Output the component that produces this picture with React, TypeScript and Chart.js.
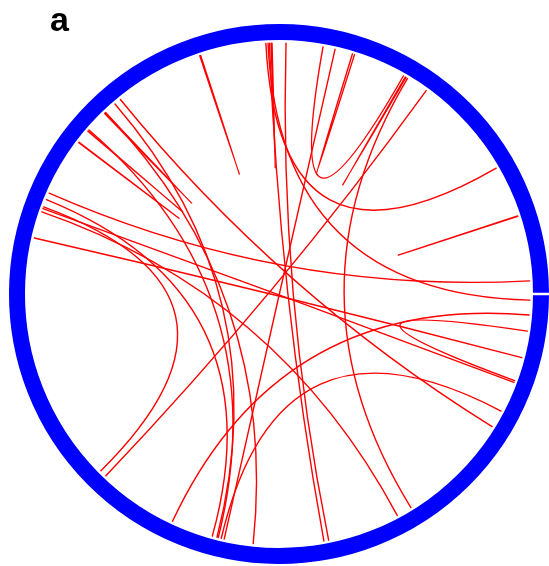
import React, { useEffect, useRef } from "react";
import { Chart, registerables } from "chart.js";

Chart.register(...registerables);

// Link end positions along the ring, degrees clockwise from the 3 o'clock gap
const linkStart = [
  251.6, 267.0, 267.5, 267.8, 268.2, 271.6, 280.1, 282.9, 287.0, 300.2,
  300.8, 305.9, 341.9, 357.0, 4.8, 8.5, 14.7, 20.6, 27.8, 31.9,
  61.9, 95.9, 105.4, 104.3, 104.0, 135.2, 217.1, 220.4, 226.0,
];
const linkEnd = [
  251.8, 329.9, 1.4, 79.7, 268.4, 78.6, 299.7, 102.6, 287.5, 300.4,
  58.3, 133.6, 342.0, 203.7, 115.1, 20.2, 192.9, 199.9, 103.3, 230.8,
  199.1, 226.3, 202.1, 229.2, 220.8, 200.3, 217.2, 220.5, 226.2,
];

const LINK_RADIUS = 251;
const RING_INNER = 254;
const RING_OUTER = 270;
const GAP_DEG = 0.55;
const PANEL_LABEL = "a";

const circosPlugin = {
  id: "circos",
  beforeDatasetsDraw(chart: any) {
    const xs = chart.scales.x;
    const ys = chart.scales.y;
    const ctx = chart.ctx as CanvasRenderingContext2D;
    const cx = xs.getPixelForValue(0);
    const cy = ys.getPixelForValue(0);
    const pt = (deg: number, r: number) => {
      const a = (deg * Math.PI) / 180;
      return {
        x: xs.getPixelForValue(r * Math.cos(a)),
        y: ys.getPixelForValue(-r * Math.sin(a)),
      };
    };
    const rpx = (r: number) => xs.getPixelForValue(r) - cx;

    ctx.save();
    // ring
    const g = ((GAP_DEG / 2) * Math.PI) / 180;
    ctx.strokeStyle = "#0000ff";
    ctx.lineCap = "butt";
    ctx.lineWidth = rpx(RING_OUTER - RING_INNER);
    ctx.beginPath();
    ctx.arc(cx, cy, rpx((RING_INNER + RING_OUTER) / 2), g, 2 * Math.PI - g);
    ctx.stroke();

    // links
    ctx.strokeStyle = "#ff0000";
    ctx.lineWidth = 1.4;
    ctx.lineCap = "round";
    for (let i = 0; i < linkStart.length; i++) {
      const p0 = pt(linkStart[i], LINK_RADIUS);
      const p2 = pt(linkEnd[i], LINK_RADIUS);
      ctx.beginPath();
      ctx.moveTo(p0.x, p0.y);
      ctx.quadraticCurveTo(cx, cy, p2.x, p2.y);
      ctx.stroke();
    }
    ctx.restore();
  },
};

export default function App() {
  const ref = useRef<HTMLCanvasElement | null>(null);
  useEffect(() => {
    if (!ref.current) return;
    const chart = new Chart(ref.current, {
      type: "scatter",
      data: { datasets: [{ data: [], pointRadius: 0 }] },
      options: {
        animation: false,
        responsive: false,
        devicePixelRatio: 1,
        layout: { padding: 0 },
        scales: {
          x: { type: "linear", min: -279, max: 270, display: false },
          y: { type: "linear", min: -272, max: 294, display: false },
        },
        plugins: { legend: { display: false }, tooltip: { enabled: false } },
      },
      plugins: [circosPlugin],
    });
    return () => chart.destroy();
  }, []);
  return (
    <div style={{ position: "absolute", left: 0, top: 0, width: 549, height: 566, background: "#fff" }}>
      <canvas ref={ref} width={549} height={566} style={{ display: "block" }} />
      <div
        style={{
          position: "absolute",
          left: 50,
          top: 2,
          fontFamily: "'Liberation Sans', Arial, sans-serif",
          fontWeight: 700,
          fontSize: 34,
          lineHeight: 1,
          color: "#000",
        }}
      >
        {PANEL_LABEL}
      </div>
    </div>
  );
}
